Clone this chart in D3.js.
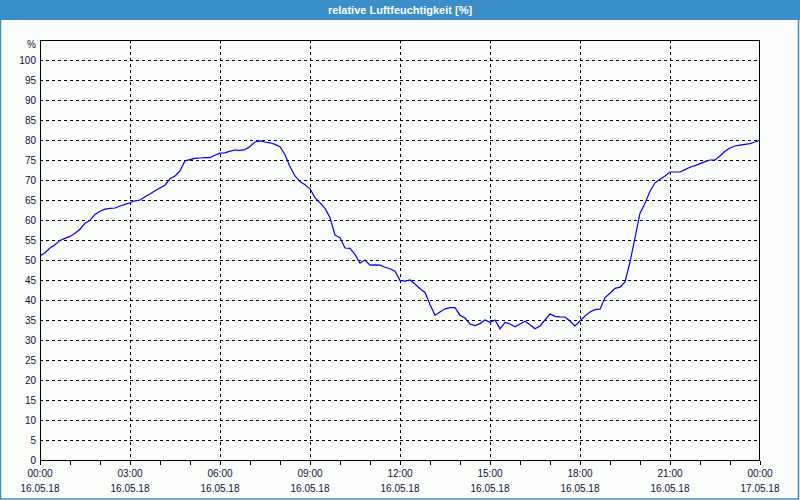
<!DOCTYPE html>
<html>
<head>
<meta charset="utf-8">
<script src="https://cdn.jsdelivr.net/npm/d3@7"></script>
<style>
  html, body { margin: 0; padding: 0; background: #fbfdfb; }
  svg { display: block; }
</style>
</head>
<body>
<svg id="chart" width="800" height="500"></svg>
<script>
// ---- data ----
const title = "relative Luftfeuchtigkeit [%]";
const unitLabel = "%";
const startTime = "2018-05-16T00:00";
const endTime = "2018-05-17T00:00";
const stepMinutes = 10;
// relative humidity [%] every 10 minutes, 16.05.18 00:00 .. 17.05.18 00:00
const humidity = [
  51.0, 51.8, 53.0, 53.8, 54.9, 55.4,
  55.9, 56.7, 57.7, 59.2, 59.9, 61.4,
  62.2, 62.7, 62.9, 63.0, 63.5, 63.9,
  64.3, 64.8, 65.0, 65.8, 66.5, 67.3,
  68.0, 68.7, 70.3, 71.0, 72.3, 74.8,
  75.1, 75.4, 75.5, 75.6, 75.6, 76.2,
  76.7, 76.8, 77.2, 77.5, 77.4, 77.6,
  78.4, 79.5, 79.8, 79.5, 79.3, 78.9,
  78.3, 76.3, 73.3, 71.0, 69.6, 68.8,
  67.8, 65.6, 64.3, 62.9, 60.6, 56.2,
  55.6, 53.0, 52.9, 51.4, 49.2, 50.0,
  48.7, 48.8, 48.7, 48.2, 47.8, 47.2,
  44.9, 44.7, 45.0, 44.0, 42.8, 41.9,
  38.9, 36.2, 37.0, 37.8, 38.1, 38.1,
  36.2, 35.5, 34.0, 33.6, 34.1, 35.0,
  34.4, 35.0, 32.8, 34.4, 34.0, 33.3,
  34.0, 34.7, 33.8, 32.8, 33.5, 35.0,
  36.5, 35.9, 35.8, 35.75, 34.75, 33.5,
  34.8, 36.0, 37.0, 37.6, 37.7, 40.6,
  41.7, 42.9, 43.2, 44.5, 49.5, 55.5,
  61.7, 64.2, 67.2, 69.3, 70.2, 71.0,
  72.0, 72.0, 72.0, 72.6, 73.2, 73.6,
  74.1, 74.6, 75.0, 75.0, 76.0, 77.2,
  78.0, 78.5, 78.7, 78.9, 79.1, 79.5,
  80.0
];
const yTicks = [0,5,10,15,20,25,30,35,40,45,50,55,60,65,70,75,80,85,90,95,100];
const yMax = 105;

// ---- layout ----
const W = 800, H = 500;
const m = { left: 40, right: 40, top: 40, bottom: 40 };
const svg = d3.select("#chart");

const t0 = new Date(startTime), t1 = new Date(endTime);
const series = humidity.map((v, i) => ({ t: new Date(t0.getTime() + i * stepMinutes * 60000), v }));

const x = d3.scaleTime().domain([t0, t1]).range([m.left, W - m.right]);
const y = d3.scaleLinear().domain([0, yMax]).range([H - m.bottom, m.top]);

// window frame
svg.append("rect").attr("x", 0).attr("y", 0).attr("width", W).attr("height", H).attr("fill", "#fbfdfb");
svg.append("rect").attr("x", 0).attr("y", 0).attr("width", W).attr("height", 20).attr("fill", "#3c8fc6");
svg.append("rect").attr("x", 0.5).attr("y", 0.5).attr("width", W - 2).attr("height", H - 1.5)
  .attr("fill", "none").attr("stroke", "#3c8fc6").attr("stroke-width", 1.5);
svg.append("text").attr("x", W / 2).attr("y", 14).attr("text-anchor", "middle")
  .attr("font-family", "'Liberation Sans', Arial, sans-serif").attr("font-size", 11).attr("font-weight", "bold")
  .attr("fill", "#ffffff").text(title);

const font = "'Liberation Sans', Arial, sans-serif";
const textColor = "#10103a";

// horizontal grid
const gy = svg.append("g");
yTicks.filter(d => d > 0).forEach(d => {
  gy.append("line").attr("x1", m.left).attr("x2", W - m.right)
    .attr("y1", Math.round(y(d)) + 0.5).attr("y2", Math.round(y(d)) + 0.5)
    .attr("stroke", "#000").attr("stroke-dasharray", "3,3").attr("shape-rendering", "crispEdges");
});

// vertical grid every 3 hours
const gridTimes = d3.timeHour.every(3).range(t0, t1).filter(d => d > t0);
gridTimes.forEach(d => {
  gy.append("line").attr("y1", m.top).attr("y2", H - m.bottom)
    .attr("x1", Math.round(x(d)) + 0.5).attr("x2", Math.round(x(d)) + 0.5)
    .attr("stroke", "#000").attr("stroke-dasharray", "3,3").attr("shape-rendering", "crispEdges");
});

// y axis labels
const yAxis = d3.axisLeft(y).tickValues(yTicks).tickSize(0).tickPadding(4);
const gYA = svg.append("g").attr("transform", `translate(${m.left},0)`).call(yAxis);
gYA.select(".domain").remove();
gYA.selectAll("text").attr("font-family", font).attr("font-size", 10).attr("fill", textColor);
svg.append("text").attr("x", m.left - 4).attr("y", 48).attr("text-anchor", "end")
  .attr("font-family", font).attr("font-size", 10).attr("fill", textColor).text(unitLabel);

// x axis: hourly ticks, labels every 3 hours
const xAxis = d3.axisBottom(x).ticks(d3.timeHour.every(1)).tickSize(4).tickFormat("");
const gXA = svg.append("g").attr("transform", `translate(0,${H - m.bottom + 0.5})`).call(xAxis);
gXA.select(".domain").remove();
gXA.selectAll("line").attr("stroke", "#000").attr("shape-rendering", "crispEdges");

const labelTimes = d3.timeHour.every(3).range(t0, d3.timeMinute.offset(t1, 1));
const fTime = d3.timeFormat("%H:%M"), fDate = d3.timeFormat("%d.%m.%y");
labelTimes.forEach(d => {
  svg.append("text").attr("x", x(d)).attr("y", 477).attr("text-anchor", "middle")
    .attr("font-family", font).attr("font-size", 10).attr("fill", textColor).text(fTime(d));
  svg.append("text").attr("x", x(d)).attr("y", 492).attr("text-anchor", "middle")
    .attr("font-family", font).attr("font-size", 10).attr("fill", textColor).text(fDate(d));
});

// plot frame
svg.append("rect").attr("x", m.left + 0.5).attr("y", m.top + 0.5)
  .attr("width", W - m.left - m.right - 1).attr("height", H - m.top - m.bottom)
  .attr("fill", "none").attr("stroke", "#000").attr("shape-rendering", "crispEdges");

// data line
const line = d3.line().x(d => x(d.t)).y(d => y(d.v));
svg.append("path").datum(series).attr("d", line)
  .attr("fill", "none").attr("stroke", "#0000ee").attr("stroke-width", 1.2);
</script>
</body>
</html>
